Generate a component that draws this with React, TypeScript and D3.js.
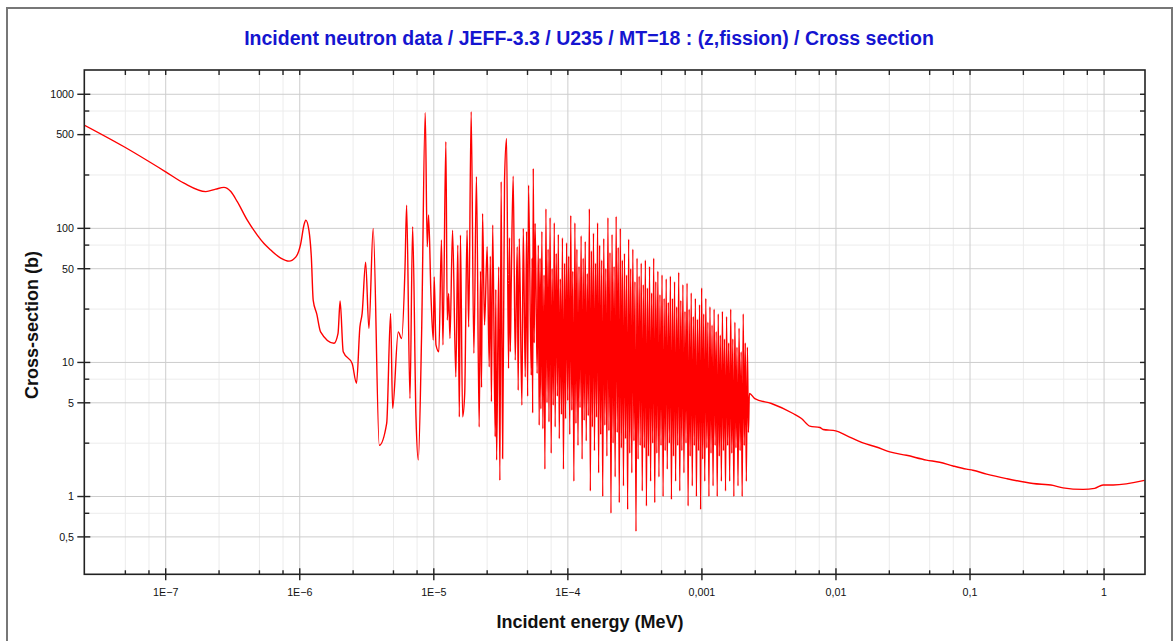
import React from 'react'
import * as d3 from 'd3'

// energies in eV, cross sections in barns
const thermal: [number, number][] = [
  [0.0246, 590], [0.0489, 406], [0.1, 264], [0.137, 217], [0.199, 188], [0.236, 196],
  [0.272, 202], [0.306, 188], [0.342, 158], [0.406, 115], [0.482, 89], [0.541, 77],
  [0.607, 69], [0.721, 60], [0.832, 57], [0.933, 61], [1.017, 77], [1.075, 106],
  [1.11, 115], [1.17, 97], [1.22, 61], [1.26, 29], [1.34, 22.9], [1.43, 16.9],
  [1.8, 13.9], [1.93, 16.5], [2.0, 28.7], [2.11, 12.0], [2.46, 9.8], [2.65, 7.0],
  [2.81, 18.4], [2.92, 23.2], [3.1, 56], [3.28, 17.9], [3.53, 100], [3.92, 2.41],
]

const lowResonances: [number, number][] = [
  [4.45, 3.51], [4.76, 23.2], [4.93, 4.54], [5.43, 16.9], [5.75, 15.1], [6.1, 51.7],
  [6.27, 149], [6.64, 5.39], [6.95, 103], [7.36, 3.93], [7.66, 1.87], [8.11, 16.5],
  [8.63, 729], [8.93, 72.9], [9.14, 126], [9.53, 30.9], [9.91, 14.7], [10.07, 43.5],
  [10.38, 13.5], [10.9, 12.0], [11.4, 81.8], [11.7, 13.5], [12.3, 443], [12.6, 20.7],
  [12.9, 32.7], [13.2, 15.1], [13.8, 97], [14.6, 7.8], [15.1, 75], [15.5, 3.93],
  [15.8, 89], [16.4, 3.93], [17.0, 5.87], [17.7, 97], [18.2, 18.4], [19.0, 741],
  [19.9, 11.7], [20.8, 243], [21.8, 3.3], [22.3, 48], [22.7, 6.5], [23.1, 129],
  [23.9, 19.0], [25.0, 72.9], [25.9, 9.27], [26.4, 62], [26.9, 5.1], [27.5, 106],
  [28.7, 2.79], [29.0, 35], [29.4, 1.87], [30.5, 51.7], [31.1, 1.32], [31.8, 223],
  [32.6, 1.92], [33.7, 229], [34.9, 469], [36.1, 9.02], [36.7, 85], [37.2, 12],
  [37.8, 37.8], [39.1, 245], [40.5, 10.4], [41.9, 72.9], [42.6, 6.2], [43.4, 84],
  [45.4, 4.8], [46.5, 100], [48.1, 7.8], [49.2, 95], [50.1, 5.6], [50.9, 210],
  [53.3, 8.04], [54.1, 60], [54.6, 4.2], [55.2, 280], [56.1, 14], [57.0, 109],
  [59.0, 8.28], [60.2, 75], [61.1, 3.4],
]

const denseResonances: [number, number][] = [
  [62, 60], [62.9, 4.5], [64, 95], [65.1, 3.2], [66.4, 45], [67.4, 1.6], [68.6, 140], [69.9, 5.0],
  [71.2, 70], [72.3, 3.6], [73.7, 120], [75.1, 2.1], [76.3, 50], [77.8, 4.8], [79.2, 110], [80.4, 3.3],
  [81.9, 65], [83.5, 5.6], [84.9, 90], [86.3, 2.7], [87.9, 42], [89.6, 4.1], [91.1, 85], [92.7, 1.6],
  [94.5, 55], [96.2, 3.8], [97.8, 78], [99.7, 5.2], [101.4, 62], [103.3, 2.9], [105.1, 125], [107, 4.4],
  [108.8, 48], [110.9, 1.3], [112.8, 110], [114.9, 3.5], [116.8, 70], [119, 2.4], [121.1, 52], [123.2, 4.6],
  [125.6, 88], [127.7, 1.9], [130.1, 60], [132.3, 3.7], [134.8, 80], [137.1, 2.6], [139.6, 46], [142, 4.0],
  [144.7, 140], [147.1, 1.1], [149.9, 68], [152.4, 3.3], [155.3, 92], [157.9, 2.2], [160.9, 55], [163.6, 3.9],
  [166.6, 110], [169.6, 1.5], [172.6, 75], [175.7, 2.9], [178.8, 58], [182, 1.0], [185.2, 84], [188.7, 3.4],
  [191.9, 50], [195.5, 2.0], [199, 120], [202.4, 3.1], [206.2, 66], [209.7, 0.75], [213.6, 90], [217.4, 2.5],
  [221.2, 52], [225.3, 1.4], [229.2, 123], [233.5, 3.0], [237.4, 72], [241.9, 0.9], [246.1, 100], [250.7, 2.3],
  [255, 58], [259.9, 1.2], [264.4, 65], [269.3, 2.7], [274.1, 45], [279.2, 0.8], [284, 83], [289.4, 2.1],
  [294.3, 50], [300, 1.5], [305.2, 70], [311, 2.6], [316.5, 40], [322.3, 0.55], [328.2, 60], [334.1, 1.9],
  [340.3, 44], [346.2, 2.4], [352.6, 55], [358.9, 1.1], [365.4, 38], [372.1, 2.3], [378.6, 58], [385.6, 0.85],
  [392.4, 36], [399.6, 2.0], [406.7, 52], [414.2, 1.3], [421.5, 33], [429.2, 2.5], [436.8, 60], [444.8, 0.9],
  [452.7, 40], [461.1, 2.1], [469.2, 48], [478, 1.4], [486.4, 32], [495.4, 2.4], [504.1, 45], [513.3, 1.0],
  [522.5, 30], [532, 2.2], [541.6, 42], [551.5, 1.6], [561.4, 28], [571.6, 2.5], [581.9, 44], [592.4, 0.95],
  [603.1, 30], [614, 2.0], [625, 40], [636.4, 1.3], [647.9, 26], [659.6, 2.4], [671.3, 47], [683.5, 1.1],
  [695.9, 29], [708.4, 2.2], [721.2, 38], [734.2, 1.5], [747.5, 24], [761, 2.5], [774.8, 39], [788.8, 0.85],
  [803, 25], [817.5, 2.0], [832.3, 33], [847.3, 1.2], [862.6, 22], [878.1, 2.4], [893.9, 30], [910.1, 1.0],
  [926.5, 21], [943.3, 2.2], [960.2, 27], [977.6, 0.8], [995.2, 36], [1013, 1.9], [1031, 23], [1050, 1.3],
  [1069, 30], [1088, 2.3], [1108, 20], [1128, 1.0], [1148, 26], [1169, 2.1], [1190, 19], [1211, 1.2],
  [1233, 25], [1255, 2.4], [1278, 17], [1301, 1.0], [1324, 23], [1348, 2.0], [1372, 16], [1397, 1.3],
  [1422, 24], [1448, 2.2], [1474, 15], [1500, 1.1], [1527, 22], [1555, 2.4], [1583, 14], [1611, 1.3],
  [1640, 25], [1670, 2.1], [1700, 15], [1731, 1.0], [1762, 20], [1794, 2.3], [1826, 13], [1859, 1.2],
  [1893, 18], [1927, 2.2], [1962, 12], [1997, 1.0], [2033, 23], [2070, 2.4], [2107, 14], [2145, 1.3],
  [2184, 13], [2223, 3.0],
]

const fastRange: [number, number][] = [
  [2260, 5.87], [2480, 5.38], [3300, 4.94], [4790, 4.16], [5530, 3.82], [6380, 3.35],
  [7590, 3.27], [8020, 3.16], [9970, 3.09], [12000, 2.85], [15900, 2.51], [20000, 2.34],
  [25200, 2.15], [33600, 2.03], [47300, 1.87], [59400, 1.8], [74800, 1.69], [94200, 1.6],
  [105000, 1.57], [133000, 1.47], [187000, 1.36], [295000, 1.25], [416000, 1.21], [494000, 1.16],
  [697000, 1.13], [851000, 1.15], [982000, 1.22], [1170000, 1.22], [2000000, 1.32],
]

const xTicks = [1e-7, 1e-6, 1e-5, 1e-4, 1e-3, 1e-2, 1e-1, 1]
const xTickLabels = ['1E\u22127', '1E\u22126', '1E\u22125', '1E\u22124', '0,001', '0,01', '0,1', '1']
const xMinorTicks = [
  5e-8, 7.5e-8, 2.5e-7, 5e-7, 7.5e-7, 2.5e-6, 5e-6, 7.5e-6, 2.5e-5, 5e-5, 7.5e-5,
  2.5e-4, 5e-4, 7.5e-4, 2.5e-3, 5e-3, 7.5e-3, 0.025, 0.05, 0.075, 0.25, 0.5, 0.75,
]
const yTicks = [1000, 500, 100, 50, 10, 5, 1, 0.5]
const yTickLabels = ['1000', '500', '100', '50', '10', '5', '1', '0,5']
const yMinorTicks = [750, 250, 75, 25, 7.5, 2.5, 0.75]

const font = '"Liberation Sans", Arial, sans-serif'

export default function App() {
  const layout = {left: 84.3, top: 70, right: 1145, bottom: 574.3}

  const x = d3.scaleLog().domain([2.47e-8, 2.02]).range([layout.left, layout.right])
  const y = d3.scaleLog().domain([0.263, 1517]).range([layout.bottom, layout.top])

  const points = [...thermal, ...lowResonances, ...denseResonances, ...fastRange]
    .map(d => [d[0] * 1e-6, d[1]] as [number, number])

  const line = d3.line<[number, number]>()
    .x(d => x(d[0]))
    .y(d => y(d[1]))
    .curve(d3.curveMonotoneX)

  return (
    <svg width={1173} height={641} style={{position: 'absolute', left: 0, top: 0, background: '#fff'}}>
      <rect x={7} y={8} width={1165} height={660} fill="#fff" stroke="#777" strokeWidth={2} />
      <text x={589} y={45} textAnchor="middle" fontFamily={font} fontWeight="bold" fontSize={19.5} fill="#1515d0">
        Incident neutron data / JEFF-3.3 / U235 / MT=18 : (z,fission) / Cross section
      </text>

      <defs>
        <clipPath id="plot-clip">
          <rect x={layout.left} y={layout.top} width={layout.right - layout.left} height={layout.bottom - layout.top} />
        </clipPath>
      </defs>

      {/* grid */}
      <g>
        {xMinorTicks.map(t => (
          <line key={'xm' + t} x1={x(t)} x2={x(t)} y1={layout.top} y2={layout.bottom} stroke="#ececec" />
        ))}
        {yMinorTicks.map(t => (
          <line key={'ym' + t} y1={y(t)} y2={y(t)} x1={layout.left} x2={layout.right} stroke="#ececec" />
        ))}
        {xTicks.map(t => (
          <line key={'xg' + t} x1={x(t)} x2={x(t)} y1={layout.top} y2={layout.bottom} stroke="#cdcdcd" />
        ))}
        {yTicks.map(t => (
          <line key={'yg' + t} y1={y(t)} y2={y(t)} x1={layout.left} x2={layout.right} stroke="#cdcdcd" />
        ))}
      </g>

      <path d={line(points) || ''} fill="none" stroke="#ff0000" strokeWidth={1.4} clipPath="url(#plot-clip)" />

      {/* axes frame */}
      <rect x={layout.left} y={layout.top} width={layout.right - layout.left} height={layout.bottom - layout.top}
        fill="none" stroke="#222" strokeWidth={1.6} />

      <g stroke="#222" strokeWidth={1.4}>
        {xTicks.map(t => (
          <g key={'xt' + t}>
            <line x1={x(t)} x2={x(t)} y1={layout.bottom - 6} y2={layout.bottom + 6} />
            <line x1={x(t)} x2={x(t)} y1={layout.top} y2={layout.top + 5} />
          </g>
        ))}
        {xMinorTicks.map(t => (
          <g key={'xmt' + t}>
            <line x1={x(t)} x2={x(t)} y1={layout.bottom - 4} y2={layout.bottom} />
            <line x1={x(t)} x2={x(t)} y1={layout.top} y2={layout.top + 5} />
          </g>
        ))}
        {yTicks.map(t => (
          <g key={'yt' + t}>
            <line y1={y(t)} y2={y(t)} x1={layout.left - 7} x2={layout.left + 6} />
            <line y1={y(t)} y2={y(t)} x1={layout.right - 5} x2={layout.right} />
          </g>
        ))}
        {yMinorTicks.map(t => (
          <g key={'ymt' + t}>
            <line y1={y(t)} y2={y(t)} x1={layout.left} x2={layout.left + 5} />
            <line y1={y(t)} y2={y(t)} x1={layout.right - 5} x2={layout.right} />
          </g>
        ))}
      </g>

      <g fontFamily={font} fontSize={10.7} fill="#111">
        {xTicks.map((t, i) => (
          <text key={'xl' + t} x={x(t)} y={596} textAnchor="middle">{xTickLabels[i]}</text>
        ))}
        {yTicks.map((t, i) => (
          <text key={'yl' + t} x={74} y={y(t) + 3.8} textAnchor="end">{yTickLabels[i]}</text>
        ))}
      </g>

      <text x={590} y={628} textAnchor="middle" fontFamily={font} fontWeight="bold" fontSize={18} fill="#111">
        Incident energy (MeV)
      </text>
      <text transform="translate(38,325) rotate(-90)" textAnchor="middle" fontFamily={font} fontWeight="bold"
        fontSize={18} fill="#111">
        Cross-section (b)
      </text>
    </svg>
  )
}
